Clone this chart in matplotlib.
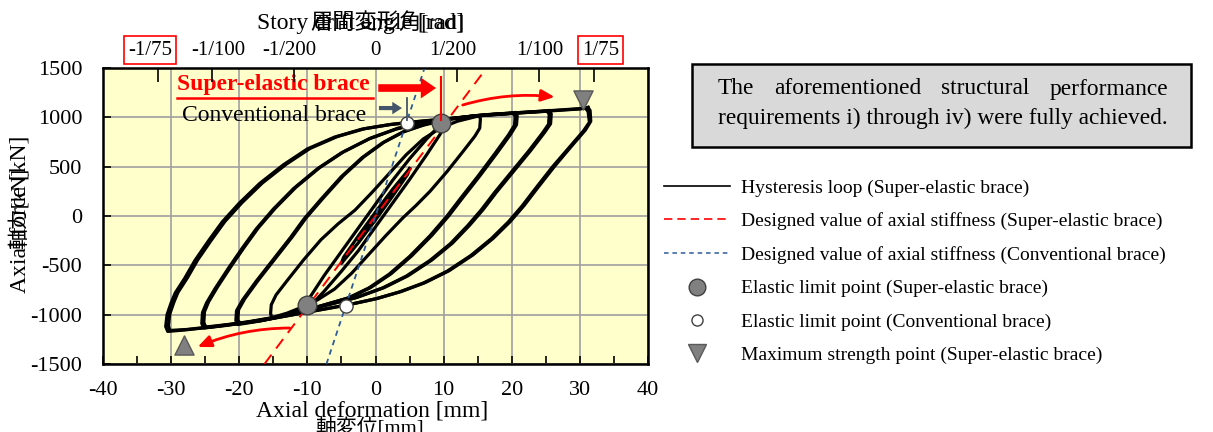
import numpy as np
import matplotlib.pyplot as plt
from matplotlib.lines import Line2D

plt.rcParams['font.family'] = ['Liberation Serif', 'Noto Sans CJK JP']
plt.rcParams['axes.unicode_minus'] = False

# hysteresis cycles (axial deformation [mm], axial force [kN])
cyc2_def = [2.5, 2.3, 0, -2.5, -2.3, 0, 2.5]
cyc2_force = [240, 200, -30, -240, -200, 30, 240]

cyc5_def = [5, 4.7, 2.5, 0, -2.5, -5, -4.7, -2.5, 0, 2.5, 5]
cyc5_force = [480, 420, 200, -40, -270, -480, -420, -200, 40, 270, 480]

cyc10_def = [10.2, 10.3, 9.5, 7.5, 5, 2.5, 0, -2.5, -5, -7.5, -10.2,
             -10.3, -9.5, -7.5, -5, -2.5, 0, 2.5, 5, 7.5, 10.2]
cyc10_force = [975, 930, 830, 620, 370, 130, -110, -350, -560, -760, -960,
               -910, -810, -600, -360, -120, 120, 360, 580, 780, 975]

cyc15_def = [15.2, 15.4, 15.3, 14.6, 12.8, 10.5, 8, 6, 4, 1.5, -1, -3.5, -6, -8.5, -11, -13, -15.2,
             -15.4, -15.3, -14.6, -12.8, -10.5, -8, -5.5, -3, -0.5, 2, 4.5, 7, 9.5, 12, 15.2]
cyc15_force = [1015, 985, 890, 810, 650, 450, 250, 110, -20, -200, -390, -580, -740, -850, -930, -985, -1030,
               -990, -900, -800, -640, -440, -240, -80, 60, 240, 430, 620, 780, 890, 960, 1015]

cyc20_def = [20.2, 20.5, 20.4, 19.5, 17.5, 15, 12.5, 10.5, 8, 5, 2, -1, -4, -7, -10, -14, -17, -20.2,
             -20.5, -20.4, -19.5, -17.5, -15, -12.5, -10.5, -8, -5, -2, 1, 4, 7, 10, 14, 17, 20.2]
cyc20_force = [1040, 1010, 920, 820, 630, 400, 180, 0, -200, -410, -590, -730, -830, -890, -950, -1020, -1065, -1100,
               -1060, -960, -850, -660, -440, -220, -30, 170, 400, 590, 740, 850, 920, 970, 1010, 1028, 1040]

cyc20b_def = [20.5, 20.8, 20.7, 19.8, 17.8, 15.3, 12.8, 10.8, 8.3, 5.3, 2.3, -0.7, -3.7, -6.7, -9.7, -13.7, -16.7, -19.9,
              -20.2, -20.1, -19.2, -17.2, -14.7, -12.2, -10.2, -7.7, -4.7, -1.7, 1.3, 4.3, 7.3, 10.3, 14.3, 17.3, 20.5]
cyc20b_force = [1045, 1015, 925, 825, 635, 405, 185, 5, -195, -405, -585, -725, -825, -885, -945, -1015, -1060, -1090,
                -1050, -950, -840, -650, -430, -210, -20, 180, 410, 600, 750, 860, 930, 978, 1015, 1033, 1045]

cyc25_def = [25.2, 25.5, 25.4, 24.5, 22.5, 20, 17.5, 15.5, 13.5, 11, 8, 4.5, 1, -3, -7, -11, -15, -19, -22, -25.2,
             -25.5, -25.4, -24.8, -23.5, -21.5, -19.5, -17.5, -15, -12, -8.5, -5, -1, 3, 7, 11, 15, 20, 25.2]
cyc25_force = [1062, 1030, 930, 840, 660, 450, 240, 60, -100, -280, -450, -610, -730, -830, -900, -960, -1030, -1080, -1110, -1135,
               -1090, -980, -880, -730, -520, -320, -130, 70, 280, 480, 640, 780, 880, 945, 985, 1015, 1040, 1062]

cyc25b_def = [25.5, 25.8, 25.7, 24.8, 22.8, 20.3, 17.8, 15.8, 13.8, 11.3, 8.3, 4.8, 1.3, -2.7, -6.7, -10.7, -14.7, -18.7, -21.7, -24.9,
              -25.2, -25.1, -24.5, -23.2, -21.2, -19.2, -17.2, -14.7, -11.7, -8.2, -4.7, -0.7, 3.3, 7.3, 11.3, 15.3, 20.3, 25.5]
cyc25b_force = [1066, 1035, 935, 845, 665, 455, 245, 65, -95, -275, -445, -605, -725, -825, -895, -955, -1025, -1072, -1100, -1125,
                -1080, -970, -870, -720, -510, -310, -120, 80, 290, 490, 650, 790, 890, 952, 990, 1020, 1045, 1066]

cyc30_def = [30.8, 31.2, 31.4, 30.5, 28.5, 26, 23.5, 21.5, 19.5, 17, 14, 10.5, 7, 3.5, 0, -4, -8, -12, -16, -20, -24, -28, -30.5,
             -30.8, -30.6, -30, -29.4, -28, -26.5, -24.5, -22.5, -20, -17, -13.5, -10, -6, -2, 2, 6, 10, 15, 20, 25, 30, 30.8]
cyc30_force = [1095, 1060, 950, 860, 700, 500, 280, 100, -60, -230, -400, -560, -680, -770, -840, -900, -950, -1000, -1050, -1090, -1125, -1155, -1170,
               -1120, -1000, -880, -780, -630, -450, -250, -60, 130, 330, 520, 680, 800, 880, 925, 955, 980, 1015, 1040, 1062, 1085, 1095]

cyc30b_def = [31.2, 31.5, 31.6, 30.8, 28.8, 26.3, 23.8, 21.8, 19.8, 17.3, 14.3, 10.8, 7.3, 3.8, 0.3, -3.7, -7.7, -11.7, -15.7, -19.7, -23.7, -27.7, -30.2,
              -30.4, -30.2, -29.6, -29.0, -27.6, -26.1, -24.1, -22.1, -19.6, -16.6, -13.1, -9.6, -5.6, -1.6, 2.4, 6.4, 10.4, 15.4, 20.4, 25.4, 30.4, 31.2]
cyc30b_force = [1100, 1070, 960, 870, 710, 505, 285, 105, -55, -225, -395, -555, -675, -765, -835, -895, -945, -995, -1045, -1085, -1120, -1150, -1160,
                -1110, -995, -875, -775, -625, -445, -245, -55, 135, 335, 525, 685, 805, 885, 930, 960, 985, 1020, 1045, 1067, 1090, 1100]

cycles = [(cyc2_def, cyc2_force), (cyc5_def, cyc5_force), (cyc10_def, cyc10_force),
          (cyc15_def, cyc15_force), (cyc20_def, cyc20_force), (cyc20b_def, cyc20b_force),
          (cyc25_def, cyc25_force), (cyc25b_def, cyc25b_force),
          (cyc30_def, cyc30_force), (cyc30b_def, cyc30b_force)]

# designed axial stiffness lines
se_stiff_def = [-16.3, 16.3]
se_stiff_force = [-1500, 1500]
conv_stiff_def = [-7.2, 7.2]
conv_stiff_force = [-1500, 1500]

# characteristic points
se_limit_def = [9.6, -10.0]
se_limit_force = [945, -905]
conv_limit_def = [4.6, -4.4]
conv_limit_force = [945, -912]
max_def = [30.5, -28.1]
max_force = [1175, -1307]

# story drift angle axis: tick marks and (slightly shifted) labels
drift_ticks = [-32, -24, -12, 0, 12, 24, 32]
drift_label_pos = [-33.1, -23.1, -12.6, 0, 11.4, 24.1, 33.0]
drift_labels = ['-1/75', '-1/100', '-1/200', '0', '1/200', '1/100', '1/75']

fig = plt.figure(figsize=(12.13, 4.32), dpi=100)
ax = fig.add_axes([103 / 1213, 1 - 364 / 432, 545 / 1213, 296 / 432])
ax.set_facecolor('#FFFFCC')

for d, f in cycles:
    ax.plot(d, f, color='black', linewidth=2.3, zorder=3)

ax.plot(se_stiff_def, se_stiff_force, color='red', linestyle=(0, (6, 4)), linewidth=1.4, zorder=4)
ax.plot(conv_stiff_def, conv_stiff_force, color='#2E5B9A', linestyle=(0, (3, 2.5)), linewidth=1.3, zorder=4)

ax.scatter(se_limit_def, se_limit_force, s=180, color='#808080', edgecolor='#404040', linewidth=1, zorder=6)
ax.scatter(conv_limit_def, conv_limit_force, s=90, color='white', edgecolor='#404040', linewidth=1, zorder=6)
ax.scatter(max_def[:1], max_force[:1], marker='v', s=190, color='#808080', edgecolor='#595959', zorder=6)
ax.scatter(max_def[1:], max_force[1:], marker='^', s=190, color='#808080', edgecolor='#595959', zorder=6)

# annotations
ax.text(-29.1, 1337, 'Super-elastic brace', color='red', fontsize=17, fontweight='bold',
        va='center', ha='left', zorder=7)
ax.plot([-29.1, -0.4], [1195, 1195], color='red', linewidth=1.8, zorder=7)
ax.annotate('', xy=(9.3, 1297), xytext=(0, 1297),
            arrowprops=dict(arrowstyle='simple,head_length=1.1,head_width=1.5,tail_width=0.55',
                            color='red', lw=0), zorder=7)
ax.plot([9.6, 9.6], [1410, 975], color='red', linewidth=1.5, zorder=7)

ax.text(-28.4, 1023, 'Conventional brace', color='black', fontsize=17, va='center', ha='left', zorder=7)
ax.annotate('', xy=(4.3, 1094), xytext=(0.1, 1094),
            arrowprops=dict(arrowstyle='simple,head_length=0.7,head_width=0.9,tail_width=0.3',
                            color='#44546A', lw=0), zorder=7)
ax.plot([4.6, 4.6], [1196, 975], color='#44546A', linewidth=1.3, zorder=7)

ax.annotate('', xy=(26.3, 1206), xytext=(12.8, 1125),
            arrowprops=dict(arrowstyle='-|>,head_length=0.8,head_width=0.35', color='red', lw=2,
                            connectionstyle='arc3,rad=-0.1', shrinkA=0, shrinkB=0), zorder=7)
ax.annotate('', xy=(-26.1, -1327), xytext=(-12.6, -1135),
            arrowprops=dict(arrowstyle='-|>,head_length=0.8,head_width=0.35', color='red', lw=2,
                            connectionstyle='arc3,rad=0.1', shrinkA=0, shrinkB=0), zorder=7)

ax.set_xlim(-40, 40)
ax.set_ylim(-1500, 1500)
ax.set_xticks(np.arange(-40, 41, 10))
ax.set_xticks(np.arange(-35, 40, 10), minor=True)
ax.set_yticks(np.arange(-1500, 1501, 500))
ax.grid(True, color='#A0A0A0', linewidth=1.2, zorder=1)
ax.set_axisbelow(True)
ax.tick_params(axis='both', which='both', direction='in', length=6, width=1.2, labelsize=16)
ax.tick_params(axis='x', which='major', pad=12)
ax.tick_params(axis='y', which='major', pad=15)
for sp in ax.spines.values():
    sp.set_linewidth(1.8)

ax2 = ax.twiny()
ax2.set_xlim(-40, 40)
ax2.set_xticks(drift_label_pos)
ax2.set_xticklabels(drift_labels)
ax2.set_xticks(drift_ticks, minor=True)
ax2.tick_params(axis='x', which='major', length=0, labelsize=15, pad=6)
ax2.tick_params(axis='x', which='minor', direction='in', length=10, width=1.2)
for lab in ax2.get_xticklabels():
    if lab.get_text() in ('-1/75', '1/75'):
        lab.set_bbox(dict(facecolor='white', edgecolor='red', linewidth=1.2, pad=3))

# axis titles (English overlaid with Japanese, as in the source)
jp = ['Liberation Serif', 'Noto Sans CJK JP']
fig.text(464 / 1213, 1 - 23 / 432, 'Story drift angle [rad]', fontsize=17, ha='right', va='center')
fig.text(465 / 1213, 1 - 23 / 432, '層間変形角[rad]', fontsize=16, ha='right', va='center', family=jp)
fig.text(372 / 1213, 1 - 411 / 432, 'Axial deformation [mm]', fontsize=17, ha='center', va='center')
fig.text(370 / 1213, 1 - 429 / 432, '軸変位[mm]', fontsize=15, ha='center', va='center', family=jp)
fig.text(20 / 1213, 1 - 214 / 432, 'Axial force [kN]', fontsize=17, rotation=90, ha='center', va='center')
fig.text(20 / 1213, 1 - 208 / 432, '軸力[kN]', fontsize=15, rotation=90, ha='center', va='center', family=jp)

# statement box
fig.patches.append(plt.Rectangle((692 / 1213, 1 - 147 / 432), 499 / 1213, 83 / 432,
                                 transform=fig.transFigure, facecolor='#D9D9D9',
                                 edgecolor='black', linewidth=1.8))
line1_words = ['The', 'aforementioned', 'structural', 'performance']
box_left, box_right = 718, 1168
renderer = fig.canvas.get_renderer()
word_objs = [fig.text(0, 1 - 89 / 432, w, fontsize=16.8, ha='left', va='center') for w in line1_words]
widths = [t.get_window_extent(renderer).width for t in word_objs]
gap = (box_right - box_left - sum(widths)) / (len(widths) - 1)
xpos = box_left
for t, wd in zip(word_objs, widths):
    t.set_x(xpos / 1213)
    xpos += wd + gap
fig.text(box_left / 1213, 1 - 118 / 432, 'requirements i) through iv) were fully achieved.',
         fontsize=16.8, ha='left', va='center')

# legend
handles = [
    Line2D([], [], color='black', linewidth=1.2),
    Line2D([], [], color='red', linestyle=(0, (5, 3)), linewidth=1.2),
    Line2D([], [], color='#2E5B9A', linestyle=(0, (3, 2.5)), linewidth=1.1),
    Line2D([], [], linestyle='none', marker='o', markersize=12, markerfacecolor='#808080', markeredgecolor='#404040'),
    Line2D([], [], linestyle='none', marker='o', markersize=8, markerfacecolor='white', markeredgecolor='#404040'),
    Line2D([], [], linestyle='none', marker='v', markersize=13, markerfacecolor='#808080', markeredgecolor='#595959'),
]
labels = ['Hysteresis loop (Super-elastic brace)',
          'Designed value of axial stiffness (Super-elastic brace)',
          'Designed value of axial stiffness (Conventional brace)',
          'Elastic limit point (Super-elastic brace)',
          'Elastic limit point (Conventional brace)',
          'Maximum strength point (Super-elastic brace)']
fig.legend(handles, labels, loc='upper left', bbox_to_anchor=(664 / 1213, 1 - 179 / 432),
           frameon=False, fontsize=14, handlelength=3.4, handletextpad=0.55,
           labelspacing=0.81, borderpad=0, borderaxespad=0)

plt.savefig('out.png', dpi=100)
